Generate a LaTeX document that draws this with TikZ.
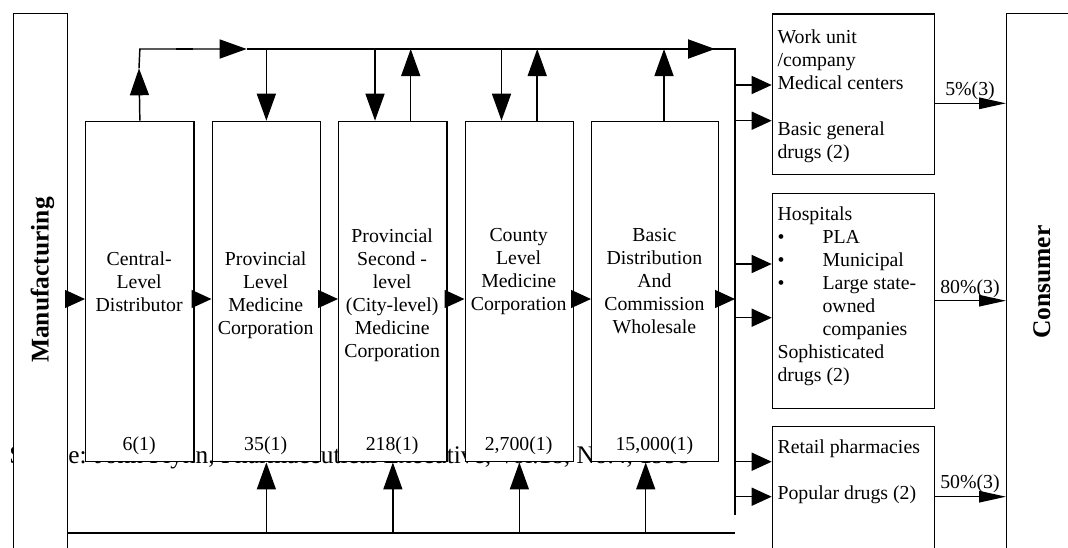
\documentclass[tikz,border=0pt]{standalone}
\usepackage{fontspec}
\setmainfont{Liberation Serif}
\usetikzlibrary{arrows.meta,calc}
\begin{document}
\begin{tikzpicture}[x=0.75pt,y=-0.75pt,
  ln/.style={line width=1.1pt},
  box/.style={draw, line width=1.1pt, fill=white, inner sep=0pt, anchor=north west},
  txt/.style={inner sep=0pt, font=\fontsize{14.85pt}{17.25pt}\selectfont},
  big/.style={-{Triangle[length=20.25pt,width=14.25pt]}},
  mid/.style={-{Triangle[length=15pt,width=13.5pt]}},
  slim/.style={-{Triangle[length=20.25pt,width=8.6pt]}},
  bold/.style={inner sep=0pt, font=\fontsize{19.1pt}{22pt}\selectfont\bfseries, rotate=90, anchor=base}]
\useasboundingbox (0,0) rectangle (1068,547);
\clip (0,0) rectangle (1068,547);
% source text (behind boxes)
\node[inner sep=0pt, anchor=base west, font=\fontsize{19pt}{22pt}\selectfont] (src) at (9,463) {Source: John Flynn, Pharmaceutical Executive, Vol.18, No.4, 1998};
% boxes
\node[box, minimum width=40.5pt, minimum height=411pt] (M) at (13,13) {};
\node[box, minimum width=55.5pt, minimum height=411pt] (C) at (1006,13) {};
\node[box, minimum width=81.2pt, minimum height=255.2pt] (B1) at (85,120.7) {};
\node[box, minimum width=81.2pt, minimum height=255.2pt] (B2) at (211.5,120.7) {};
\node[box, minimum width=81.2pt, minimum height=255.2pt] (B3) at (338,120.7) {};
\node[box, minimum width=81.2pt, minimum height=255.2pt] (B4) at (464.5,120.7) {};
\node[box, minimum width=95pt, minimum height=255.2pt] (B5) at (591,120.7) {};
\node[box, minimum width=121.7pt, minimum height=120.5pt] (R1) at (771.7,13.3) {};
\node[box, minimum width=121.7pt, minimum height=161.25pt] (R2) at (771.7,192.7) {};
\node[box, minimum width=121.7pt, minimum height=110pt] (R3) at (771.7,426) {};
% helper coordinates
\coordinate (ty) at (0,49);
\coordinate (hy) at (0,299);
\coordinate (by) at (0,533);
\coordinate (vx) at (735,0);
\coordinate (t1) at (139,68.3);
\coordinate (a1) at (246.7,49);
\coordinate (a2s) at (645,49);
\coordinate (a2) at (715,49);
\coordinate (vend) at (735,515);
% horizontal chain
\draw[ln,mid] (M.east |- hy) -- (B1.west |- hy);
\draw[ln,mid] (B1.east |- hy) -- (B2.west |- hy);
\draw[ln,mid] (B2.east |- hy) -- (B3.west |- hy);
\draw[ln,mid] (B3.east |- hy) -- (B4.west |- hy);
\draw[ln,mid] (B4.east |- hy) -- (B5.west |- hy);
\draw[ln,mid] (B5.east |- hy) -- (vx |- hy);
% top bus
\draw[ln,big] (B1.north) -- (t1);
\draw[ln,big] (t1) -- (B1.north |- ty) -- (a1);
\draw[line width=1.7pt] (176,49) -- (193,49);
\draw[ln] (a1) -- (vx |- ty) -- (vend);
\draw[line width=1.5pt,big] (a2s) -- (a2);
\draw[ln,big] (B2.north |- ty) -- (B2.north);
\draw[ln,big] ($(B3.north |- ty)+(-17.85,0)$) -- ($(B3.north)+(-17.85,0)$);
\draw[ln,big] ($(B3.north)+(17.85,0)$) -- ($(B3.north |- ty)+(17.85,0)$);
\draw[ln,big] ($(B4.north |- ty)+(-17.85,0)$) -- ($(B4.north)+(-17.85,0)$);
\draw[ln,big] ($(B4.north)+(17.85,0)$) -- ($(B4.north |- ty)+(17.85,0)$);
\draw[ln,big] ($(B5.north)+(8.95,0)$) -- ($(B5.north |- ty)+(8.95,0)$);
% bottom bus
\draw[ln] (M.east |- by) -- (vx |- by);
\draw[ln,big] (B2.south |- by) -- (B2.south);
\draw[ln,big] (B3.south |- by) -- (B3.south);
\draw[ln,big] (B4.south |- by) -- (B4.south);
\draw[ln,big] ($(B5.south |- by)+(-9.35,0)$) -- ($(B5.south)+(-9.35,0)$);
% to outlets
\draw[ln,mid] (vx |- 0,85) -- (R1.west |- 0,85);
\draw[ln,mid] (vx |- 0,120.7) -- (R1.west |- 0,120.7);
\draw[ln,mid] (vx |- 0,264) -- (R2.west |- 0,264);
\draw[ln,mid] (vx |- 0,317.7) -- (R2.west |- 0,317.7);
\draw[ln,mid] (vx |- 0,461.7) -- (R3.west |- 0,461.7);
\draw[ln,mid] (vx |- 0,496.7) -- (R3.west |- 0,496.7);
% to consumer
\draw[ln,slim] (R1.east |- 0,103.3) -- (C.west |- 0,103.3);
\draw[ln,slim] (R2.east |- 0,300.7) -- (C.west |- 0,300.7);
\draw[ln,slim] (R3.east |- 0,496.7) -- (C.west |- 0,496.7);
% texts
\node[bold] (mt) at (48.5,280) {Manufacturing};
\node[bold] (ct) at (1050,282) {Consumer};
\node[txt, anchor=north, align=center] (b1t) at (139.15,251.5) {Central-\\Level\\Distributor};
\node[txt, anchor=north, align=center] (b2t) at (265.65,251.5) {Provincial\\Level\\Medicine\\Corporation};
\node[txt, anchor=north, align=center] (b3t) at (392.15,228.5) {Provincial\\Second -\\level\\(City-level)\\Medicine\\Corporation};
\node[txt, anchor=north, align=center] (b4t) at (518.65,228.5) {County\\Level\\Medicine\\Corporation};
\node[txt, anchor=north, align=center] (b5t) at (654.35,228.5) {Basic\\Distribution\\And\\Commission\\Wholesale};
\node[txt, anchor=base] (n1) at (139.15,450) {6(1)};
\node[txt, anchor=base] (n2) at (265.65,450) {35(1)};
\node[txt, anchor=base] (n3) at (392.15,450) {218(1)};
\node[txt, anchor=base] (n4) at (518.65,450) {2,700(1)};
\node[txt, anchor=base] (n5) at (654.35,450) {15,000(1)};
\node[txt, anchor=north west, align=left] (r1t) at (777.3,29) {Work unit\\/company\\Medical centers\\[17.25pt]Basic general\\drugs (2)};
\node[txt, anchor=north west, align=left] (r2t) at (777.3,206.5) {Hospitals\\\makebox[33.75pt][l]{\textbullet}PLA\\\makebox[33.75pt][l]{\textbullet}Municipal\\\makebox[33.75pt][l]{\textbullet}Large state-\\\hspace*{33.75pt}owned\\\hspace*{33.75pt}companies\\Sophisticated\\drugs (2)};
\node[txt, anchor=north west, align=left] (r3t) at (777.3,439.8) {Retail pharmacies\\[17.25pt]Popular drugs (2)};
\node[txt, anchor=base] (p1) at (970,95) {5\%(3)};
\node[txt, anchor=base] (p2) at (970,293.4) {80\%(3)};
\node[txt, anchor=base] (p3) at (970,488.5) {50\%(3)};
\end{tikzpicture}
\end{document}
